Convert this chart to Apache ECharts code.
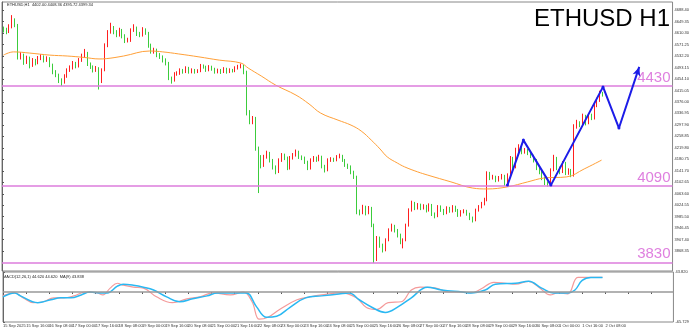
<!DOCTYPE html>
<html><head><meta charset="utf-8">
<script src="https://cdn.jsdelivr.net/npm/echarts@6/dist/echarts.min.js"></script>
<style>html,body{margin:0;padding:0;background:#fff}#c{width:692px;height:330px}</style>
</head><body><div id="c"></div>
<script>
// ---- data (hours counted from 15 Sep 2025 00:00, 2-hour candles) ----
const dateLabels = ["15 Sep 2025","15 Sep 16:00","16 Sep 08:00","17 Sep 00:00","17 Sep 16:00","18 Sep 08:00","19 Sep 00:00","19 Sep 16:00","20 Sep 08:00","21 Sep 00:00","21 Sep 16:00","22 Sep 08:00","23 Sep 00:00","23 Sep 16:00","24 Sep 08:00","25 Sep 00:00","25 Sep 16:00","26 Sep 08:00","27 Sep 00:00","27 Sep 16:00","28 Sep 08:00","29 Sep 00:00","29 Sep 16:00","30 Sep 08:00","1 Oct 00:00","1 Oct 16:00","2 Oct 08:00"];
const priceTicks = [4688.40,4649.35,4610.30,4571.25,4532.20,4493.15,4454.10,4415.05,4376.00,4336.95,4297.90,4258.85,4219.80,4180.75,4141.70,4102.65,4063.60,4024.55,3985.50,3946.45,3907.40,3868.35];
const macdTicks = [43.82, -65.729];
const candleStartHour = 1;
const candleStepHours = 2;
const firstOpen = 4625;
const closes = [4620,4614,4631,4654,4637,4529,4535,4512,4525,4501,
4518,4508,4525,4529,4518,4525,4501,4478,4467,4450,
4444,4464,4484,4491,4508,4498,4518,4532,4542,4505,
4495,4484,4491,4450,4484,4569,4614,4627,4614,4603,
4620,4600,4583,4586,4620,4627,4607,4603,4620,4610,
4569,4546,4552,4535,4529,4518,4508,4457,4450,4471,
4474,4484,4478,4491,4478,4484,4478,4481,4498,4495,
4484,4495,4488,4478,4484,4478,4488,4478,4484,4481,
4491,4495,4498,4478,4342,4314,4321,4219,4189,4161,
4189,4202,4178,4155,4138,4178,4195,4185,4151,4185,
4195,4206,4189,4185,4172,4151,4178,4185,4178,4189,
4158,4144,4178,4182,4178,4189,4192,4178,4161,4155,
4138,4121,4002,3998,4019,3998,4015,3957,3845,3913,
3889,3872,3906,3940,3954,3940,3923,3900,3906,3957,
4008,4032,4015,4025,4015,4022,4008,4025,3995,3988,
4019,4008,3998,4015,4005,4019,4008,3991,4002,4005,
3995,3981,3974,4008,4019,4029,4042,4134,4117,4121,
4110,4117,4124,4097,4127,4185,4155,4212,4223,4206,
4212,4202,4192,4178,4151,4138,4117,4100,4097,4144,
4185,4151,4138,4168,4134,4144,4127,4291,4304,4297,
4328,4304,4331,4321,4365,4382,4406,4399];
const highs = [4632,4628,4640,4671,4660,4641,4545,4540,4533,4530,
4525,4522,4532,4538,4534,4531,4528,4506,4484,4472,
4456,4470,4490,4500,4515,4512,4525,4540,4556,4546,
4510,4500,4498,4494,4490,4575,4620,4645,4634,4620,
4628,4624,4606,4594,4626,4640,4632,4614,4630,4626,
4614,4574,4560,4557,4542,4534,4524,4512,4462,4477,
4480,4490,4488,4497,4495,4490,4488,4487,4505,4503,
4499,4501,4499,4492,4489,4488,4494,4492,4490,4488,
4497,4502,4506,4502,4482,4348,4328,4325,4224,4195,
4196,4210,4206,4182,4160,4184,4202,4200,4190,4192,
4202,4214,4210,4194,4190,4176,4184,4192,4190,4196,
4193,4162,4184,4188,4186,4195,4200,4196,4182,4166,
4160,4142,4125,4010,4026,4023,4022,4019,3962,3920,
3918,3894,3912,3946,3962,3958,3944,3928,3912,3962,
4014,4040,4036,4032,4030,4028,4026,4031,4029,4000,
4025,4024,4012,4021,4019,4025,4023,4012,4008,4011,
4009,3999,3986,4013,4025,4036,4050,4140,4138,4128,
4125,4124,4131,4128,4133,4192,4189,4220,4232,4227,
4219,4216,4206,4196,4182,4156,4142,4121,4106,4150,
4196,4189,4156,4175,4172,4150,4148,4300,4315,4310,
4336,4332,4338,4336,4372,4390,4414,4410];
const lows = [4612,4606,4610,4626,4630,4520,4520,4502,4505,4490,
4495,4500,4504,4518,4510,4512,4494,4470,4460,4440,
4430,4438,4458,4478,4486,4490,4493,4512,4526,4498,
4488,4476,4478,4418,4440,4480,4562,4608,4606,4596,
4598,4592,4576,4578,4580,4614,4600,4596,4598,4604,
4560,4540,4540,4528,4522,4510,4500,4450,4438,4445,
4465,4468,4472,4474,4472,4473,4472,4474,4477,4489,
4478,4480,4482,4472,4473,4471,4474,4472,4474,4476,
4477,4486,4490,4470,4330,4300,4300,4210,4066,4150,
4155,4183,4170,4146,4130,4134,4172,4178,4144,4146,
4180,4190,4182,4178,4165,4144,4146,4172,4172,4174,
4150,4136,4140,4172,4172,4174,4184,4172,4155,4148,
4130,4114,3994,3990,3994,3990,3994,3950,3828,3835,
3880,3864,3868,3902,3935,3932,3915,3892,3878,3902,
3952,4003,4008,4010,4008,4010,4000,4003,3988,3980,
3984,4002,3991,3994,3999,4000,4002,3985,3986,3997,
3989,3974,3966,3970,4003,4014,4024,4038,4110,4112,
4103,4105,4112,4090,4093,4122,4148,4150,4206,4198,
4200,4195,4185,4170,4144,4130,4110,4093,4088,4093,
4140,4144,4130,4134,4127,4128,4120,4122,4285,4290,
4292,4296,4300,4314,4316,4358,4376,4394];
const maHours  = [1,8,19,33,45,57,67,72,84,102,111,122,136,150,165,170,179,189,203,212,220,232,241,248,255,261,266,273,278,287,294,310,325,335,349,363,374,390,402,414];
const maValues = [4535,4546,4542,4535,4532,4527,4522,4523,4532,4549,4546,4539,4529,4518,4508,4491,4464,4433,4399,4369,4338,4314,4297,4277,4246,4216,4189,4168,4155,4138,4127,4104,4083,4080,4087,4104,4117,4121,4148,4178];
const macdHours  = [0,8,14,21,28,35,42,49,57,65,69,74,79,83,90,97,106,117,127,136,145,157,166,172,177,183,191,203,212,220,234,244,251,258,266,275,282,288,299,308,317,323,330,339,347,354,363,370,378,383,390,397,405,414];
const macdValues = [-8.5,-2.1,-12.8,-23.4,-21.3,-12.8,-12.8,-8.5,0,-2.1,-6.4,8.5,19.2,14.9,10.6,8.5,-10.6,-23.4,-14.9,-10.6,-2.1,-6.4,0,-21.3,-59.6,-55.4,-38.3,-17,-10.6,-6.4,-2.1,-12.8,-34,-38.3,-23.4,-21.3,4.3,10.6,8.5,0,0,-2.1,6.4,21.3,19.2,17,23.4,10.6,-6.4,-2.1,-4.3,32,32,32];
const signalHours  = [0,8,12,24,33,40,47,54,60,67,72,79,83,90,97,104,113,122,131,141,148,159,168,175,182,189,198,209,220,232,239,246,255,264,273,282,293,303,317,323,333,340,354,363,372,380,390,395,400,406,414];
const signalValues = [-10.6,-2.1,-8.5,-23.4,-17,-12.8,-12.8,-6.4,0,-2.1,-2.1,12.8,17,14.9,10.6,4.3,-10.6,-21.3,-14.9,-8.5,-2.1,-2.1,-2.1,-32,-55.4,-53.3,-34,-12.8,-8.5,-4.3,-2.1,-17,-34,-44.7,-32,-12.8,10.6,4.3,0,-2.1,4.3,17,19.2,23.4,8.5,-2.1,-2.1,4.3,25.6,32,32];
const zigzagHours  = [349,360,379,415,426,440];
const zigzagPrices = [4093,4246,4093,4427,4287,4495];
const levels = [4430, 4090, 3830];
const lastPrice = 4399.34;
const infoText = 'ETHUSD,H1  4402.00 4408.36 4395.72 4399.34';
const macdText = 'MACD(12,26,1) 44.620 44.620  MA(9) 43.838';

// ---- build ----
const FONT = '"Liberation Sans", Arial, sans-serif';
const candles = closes.map((c, i) => [candleStartHour + candleStepHours * i, i ? closes[i - 1] : firstOpen, c, lows[i], highs[i]]);
const pairs = (xs, ys) => xs.map((x, i) => [x, ys[i]]);
const zig = zigzagHours.map((h, i) => {
  const last = i === zigzagHours.length - 1;
  return last ? { value: [h, zigzagPrices[i]], symbol: 'arrow', symbolSize: [6, 9], symbolRotate: -18 }
              : { value: [h, zigzagPrices[i]] };
});
const PINK = '#dc7cdc';
const levelLines = levels.map(v => ({
  yAxis: v, lineStyle: { color: PINK, width: 1.5, type: 'solid' },
  label: { show: true, position: 'insideEndTop', formatter: String(v), fontSize: 15, color: '#df80df', fontFamily: FONT, distance: [2, 1] }
}));
const levelBoxes = levels.map(v => ({
  yAxis: v, lineStyle: { opacity: 0 },
  label: { show: true, position: 'end', formatter: v.toFixed(2), fontSize: 4, color: '#fff', backgroundColor: '#e38fe3', padding: [1, 1], distance: 1, fontFamily: FONT }
}));
const lastBox = {
  yAxis: lastPrice, lineStyle: { opacity: 0 },
  label: { show: true, position: 'end', formatter: lastPrice.toFixed(2), fontSize: 4, color: '#fff', backgroundColor: '#000', padding: [1, 1], distance: 1, fontFamily: FONT }
};

const chart = echarts.init(document.getElementById('c'), null, { renderer: 'canvas' });
chart.setOption({
  animation: false,
  backgroundColor: '#fff',
  title: { text: 'ETHUSD H1', right: 17, top: 2, textStyle: { fontSize: 24, fontWeight: 'normal', color: '#000', fontFamily: FONT } },
  graphic: [
    { type: 'text', left: 7, top: 3, style: { text: infoText, fontSize: 4, fill: '#222', fontFamily: FONT } },
    { type: 'text', left: 3, top: 275, style: { text: macdText, fontSize: 4, fill: '#222', fontFamily: FONT } }
  ],
  grid: [
    { left: 2, right: 16, top: 2, height: 269, show: true, borderColor: '#888', borderWidth: 1 },
    { left: 2, right: 16, top: 272, height: 50, show: true, borderColor: '#888', borderWidth: 1 }
  ],
  xAxis: [
    { type: 'value', gridIndex: 0, min: 0, max: 463, show: false, splitLine: { show: false } },
    { type: 'value', gridIndex: 1, min: 0, max: 463, interval: 16,
      axisLine: { show: false }, splitLine: { show: false },
      axisTick: { show: true, length: 2, lineStyle: { color: '#555' } },
      axisLabel: { fontSize: 4, color: '#333', align: 'left', margin: 2, showMaxLabel: false, fontFamily: FONT,
        formatter: v => (v % 16 === 0 && dateLabels[v / 16]) || '' } }
  ],
  yAxis: [
    { type: 'value', gridIndex: 0, position: 'right', min: 3801, max: 4715.6, scale: true,
      splitLine: { show: false }, axisLine: { show: true, lineStyle: { color: '#666' } },
      axisTick: { show: true, length: 2, customValues: priceTicks, lineStyle: { color: '#555' } },
      axisLabel: { fontSize: 4, color: '#333', margin: 2, customValues: priceTicks, formatter: v => v.toFixed(2), fontFamily: FONT } },
    { type: 'value', gridIndex: 1, position: 'right', min: -65.729, max: 43.82,
      splitLine: { show: false }, axisLine: { show: true, lineStyle: { color: '#666' } },
      axisTick: { show: true, length: 2, customValues: macdTicks },
      axisLabel: { fontSize: 4, color: '#333', margin: 2, customValues: macdTicks, formatter: v => v.toFixed(3), fontFamily: FONT } }
  ],
  series: [
    { type: 'candlestick', xAxisIndex: 0, yAxisIndex: 0, encode: { x: 0, y: [1, 2, 3, 4] }, data: candles,
      barWidth: 1.2,
      itemStyle: { color: '#ff1f1f', color0: '#3ccc3c', borderColor: '#ff1f1f', borderColor0: '#3ccc3c', borderWidth: 1 },
      markLine: { silent: true, symbol: ['none', 'none'], animation: false, data: [...levelLines, ...levelBoxes, lastBox] } },
    { type: 'line', xAxisIndex: 0, yAxisIndex: 0, data: pairs(maHours, maValues), smooth: 0.4, showSymbol: false,
      lineStyle: { color: '#ffa038', width: 1 }, z: 3 },
    { type: 'line', xAxisIndex: 0, yAxisIndex: 0, data: zig, symbol: 'circle', symbolSize: 3, showSymbol: true,
      itemStyle: { color: '#1c1ce8' }, lineStyle: { color: '#1c1ce8', width: 2 }, z: 5 },
    { type: 'line', xAxisIndex: 1, yAxisIndex: 1, data: pairs(macdHours, macdValues), smooth: 0.4, showSymbol: false,
      lineStyle: { color: '#f49a9a', width: 1.2 },
      markLine: { silent: true, symbol: ['none', 'none'], label: { show: false }, data: [{ yAxis: 0, lineStyle: { color: '#999', width: 1.5, type: 'solid' } }] } },
    { type: 'line', xAxisIndex: 1, yAxisIndex: 1, data: pairs(signalHours, signalValues), smooth: 0.4, showSymbol: false,
      lineStyle: { color: '#2ab8f2', width: 1.5 } }
  ]
});
</script></body></html>
